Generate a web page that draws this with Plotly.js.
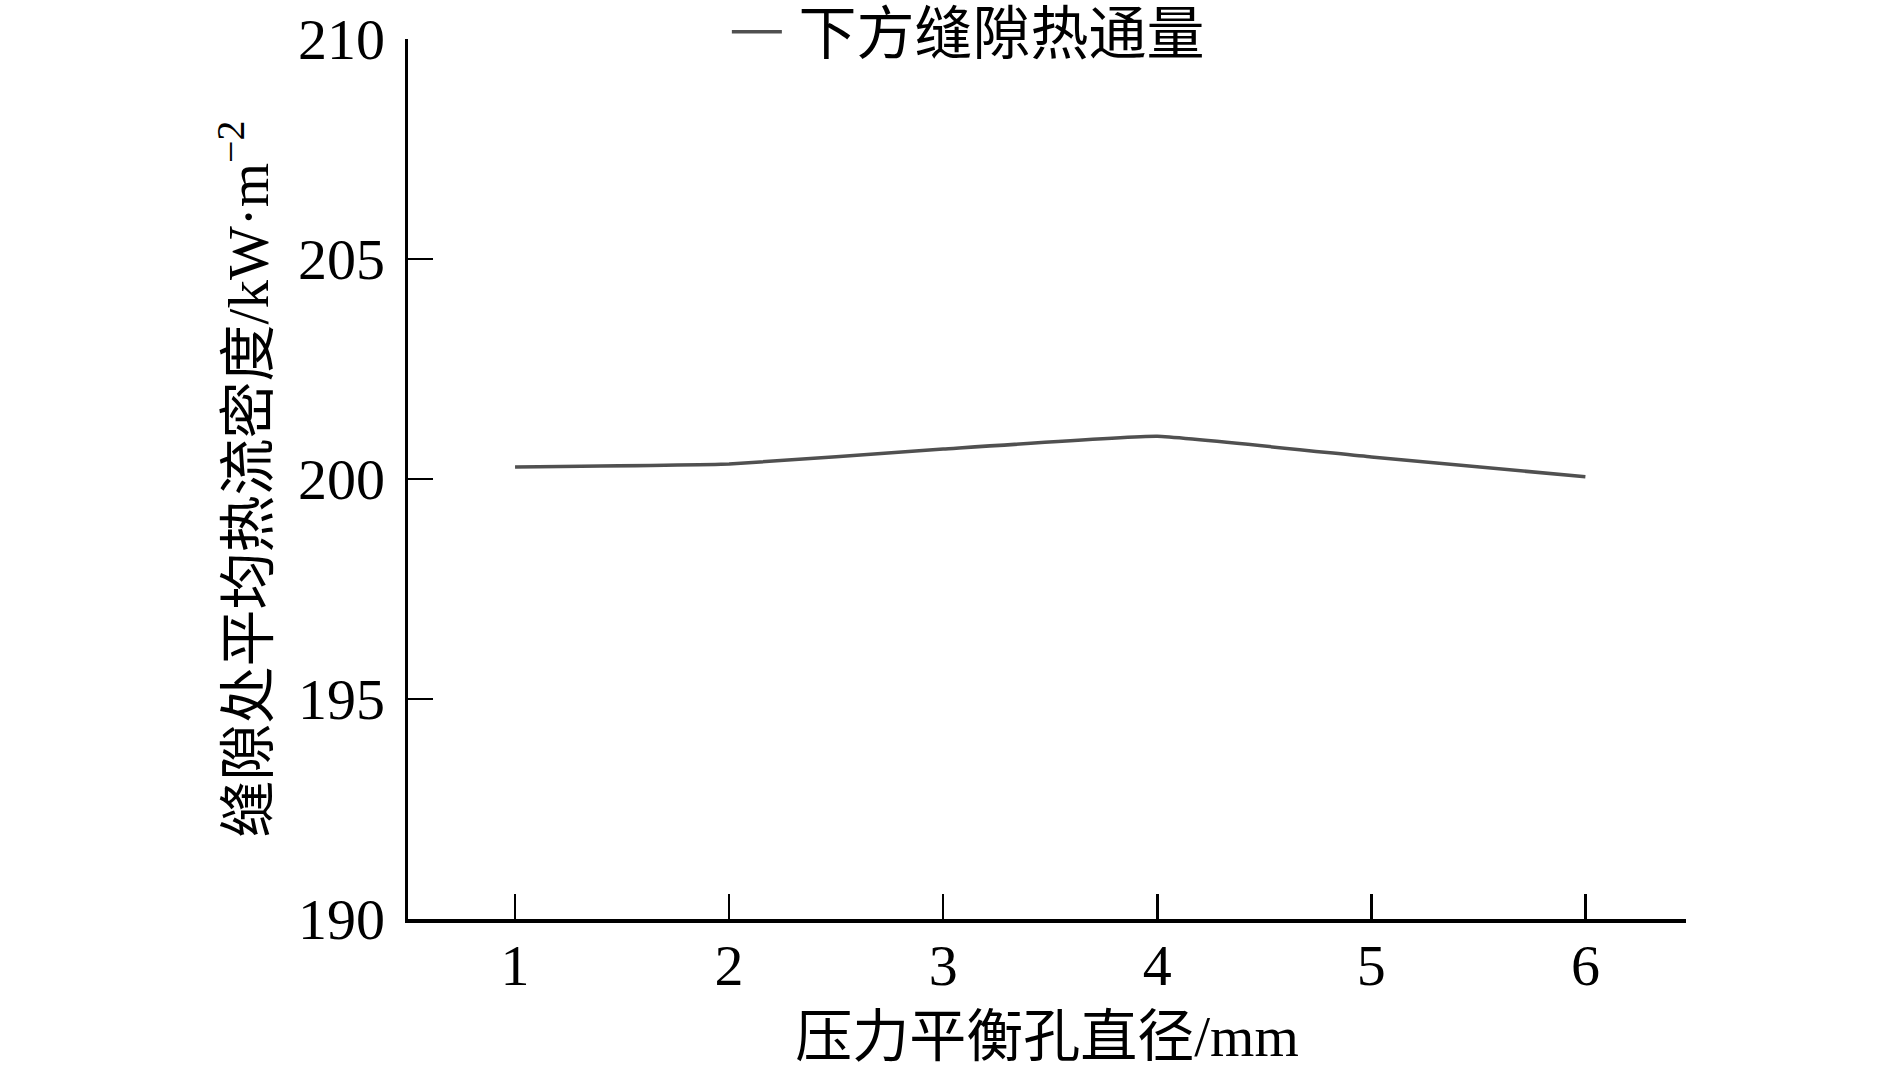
<!DOCTYPE html>
<html>
<head>
<meta charset="utf-8">
<script src="https://cdn.plot.ly/plotly-3.0.1.min.js"></script>
<style>html,body{margin:0;padding:0;background:#fff;}#chart{width:1890px;height:1077px;}</style>
</head>
<body>
<div id="chart"></div>
<script>
// Data
const holeDiameter = [1, 2, 3, 4, 5, 6];           // 压力平衡孔直径 / mm
const lowerGapHeatFlux = [200.27, 200.34, 200.68, 200.97, 200.50, 200.05]; // kW·m^-2
const seriesName = '下方缝隙热通量';
const xTitle = '压力平衡孔直径/mm';
const yTitle = '缝隙处平均热流密度/kW·m<sup>−2</sup>';
const yTicks = [190, 195, 200, 205, 210];
const xTicks = [1, 2, 3, 4, 5, 6];

const FONT = '"Liberation Serif", "Times New Roman", "Noto Sans CJK SC", serif';

const trace = {
  x: holeDiameter,
  y: lowerGapHeatFlux,
  type: 'scatter',
  mode: 'lines',
  name: '\u2009' + seriesName,
  line: {color: '#505050', width: 3.5, shape: 'spline', smoothing: 0.3}
};

const layout = {
  width: 1890,
  height: 1077,
  paper_bgcolor: '#ffffff',
  plot_bgcolor: '#ffffff',
  margin: {l: 408, r: 204, t: 39, b: 158, autoexpand: false},
  font: {family: FONT, color: '#000000', size: 57},
  showlegend: true,
  legend: {
    x: 0.2495, y: 1.008, xanchor: 'left', yanchor: 'middle',
    bgcolor: 'rgba(0,0,0,0)', borderwidth: 0,
    font: {family: FONT, size: 58, color: '#000000'},
    itemwidth: 50
  },
  xaxis: {
    range: [0.5, 6.47],
    tickvals: xTicks,
    ticktext: xTicks.map(String),
    showline: true, linecolor: '#000000', linewidth: 3.5,
    ticks: 'inside', ticklen: 25, tickwidth: 2.5, tickcolor: '#000000',
    showgrid: false, zeroline: false,
    tickfont: {family: FONT, size: 58, color: '#000000'},
    ticklabelstandoff: -7,
    title: {text: xTitle, font: {family: FONT, size: 57, color: '#000000'}, standoff: 20}
  },
  yaxis: {
    range: [190, 210],
    tickvals: yTicks,
    ticktext: yTicks.map(String),
    showline: true, linecolor: '#000000', linewidth: 3.5,
    ticks: 'inside', ticklen: 25, tickwidth: 2.5, tickcolor: '#000000',
    showgrid: false, zeroline: false,
    tickfont: {family: FONT, size: 58, color: '#000000'},
    ticklabelstandoff: 8,
    title: {text: yTitle, font: {family: FONT, size: 57, color: '#000000'}, standoff: 12}
  }
};

Plotly.newPlot('chart', [trace], layout, {displayModeBar: false, staticPlot: true});
</script>
</body>
</html>
